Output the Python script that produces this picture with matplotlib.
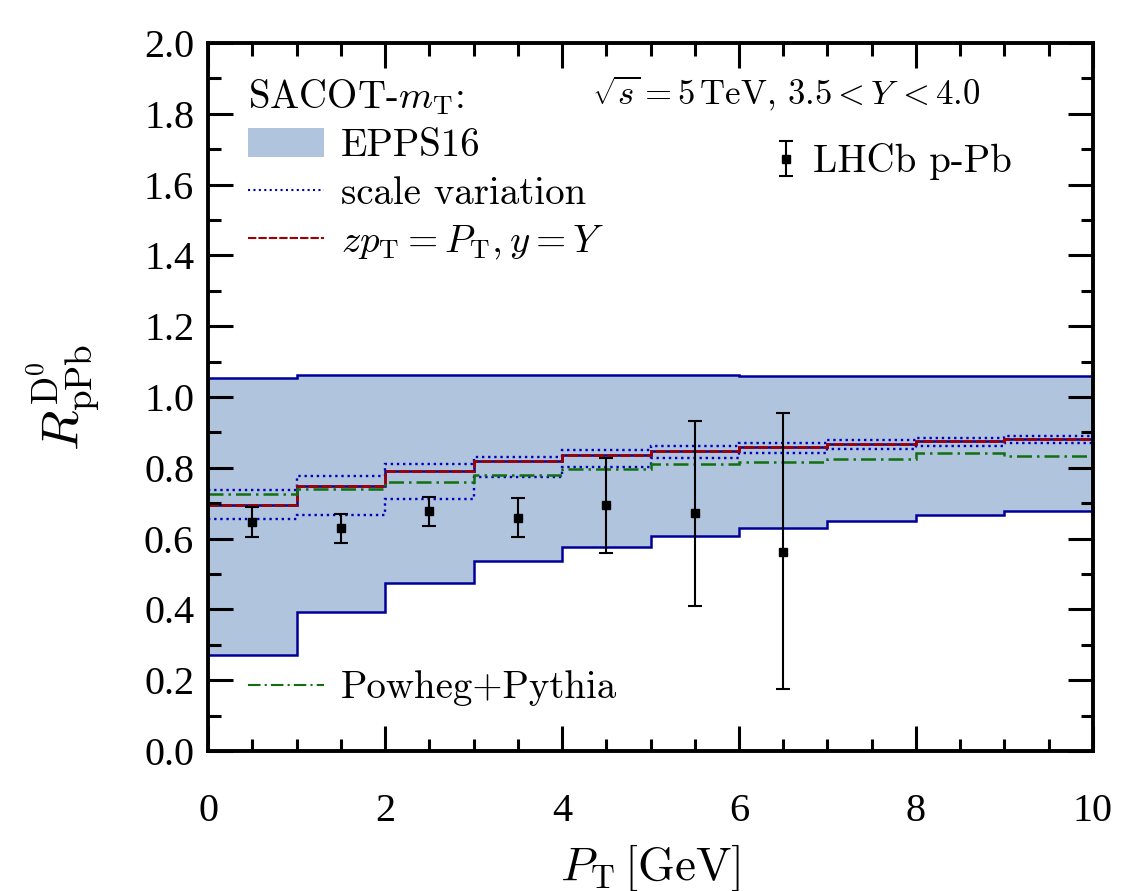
import numpy as np
import matplotlib
matplotlib.use("Agg")
import matplotlib.pyplot as plt
from matplotlib.lines import Line2D
from matplotlib.patches import Patch
from matplotlib.ticker import MultipleLocator
from matplotlib.legend_handler import HandlerErrorbar

plt.rcParams['mathtext.fontset'] = 'cm'
plt.rcParams['font.family'] = 'serif'
plt.rcParams['font.serif'] = ['cmr10']
plt.rcParams['axes.formatter.use_mathtext'] = True

# bin edges in P_T
edges = np.arange(0, 11, 1)

# EPPS16 band
epps_up = [1.053, 1.062, 1.061, 1.063, 1.062, 1.062, 1.060, 1.059, 1.059, 1.059]
epps_lo = [0.271, 0.394, 0.476, 0.536, 0.577, 0.607, 0.629, 0.649, 0.666, 0.679]

# central and scale variations
central = [0.695, 0.750, 0.791, 0.820, 0.836, 0.848, 0.859, 0.868, 0.875, 0.881]
scale_up = [0.737, 0.778, 0.810, 0.831, 0.849, 0.862, 0.870, 0.879, 0.884, 0.890]
scale_lo = [0.655, 0.668, 0.711, 0.775, 0.803, 0.828, 0.842, 0.853, 0.862, 0.871]
powheg = [0.725, 0.740, 0.759, 0.781, 0.796, 0.812, 0.817, 0.824, 0.842, 0.833]

# LHCb data
lhcb_x = [0.5, 1.5, 2.5, 3.5, 4.5, 5.5, 6.5]
lhcb_y = [0.647, 0.629, 0.678, 0.659, 0.694, 0.671, 0.562]
lhcb_hi = [0.688, 0.669, 0.718, 0.715, 0.827, 0.933, 0.954]
lhcb_lo = [0.605, 0.589, 0.637, 0.605, 0.560, 0.409, 0.175]

fig = plt.figure(figsize=(11.27, 8.91), dpi=100)
ax = fig.add_axes([0.1846, 0.1571, 0.7852, 0.7946])

band_col = '#b0c4de'
navy = '#000099'
blue = '#0000bb'
red = '#a00000'
green = '#107010'
dot = (0, (1, 1.6))
dash = (0, (4, 1))
dashdot = (0, (6, 2, 1, 2))

ax.stairs(epps_up, edges, baseline=epps_lo, fill=True, color=band_col, lw=0)
ax.stairs(epps_up, edges, baseline=None, color=navy, lw=1.8)
ax.stairs(epps_lo, edges, baseline=None, color=navy, lw=1.8)
ax.stairs(central, edges, baseline=None, color=navy, lw=1.8)
ax.stairs(scale_up, edges, baseline=None, color=blue, lw=1.7, ls=dot)
ax.stairs(scale_lo, edges, baseline=None, color=blue, lw=1.7, ls=dot)
ax.stairs(central, edges, baseline=None, color=red, lw=1.9, ls=dash)
ax.stairs(powheg, edges, baseline=None, color=green, lw=1.8, ls=dashdot)

yerr = [np.array(lhcb_y) - np.array(lhcb_lo), np.array(lhcb_hi) - np.array(lhcb_y)]
eb = ax.errorbar(lhcb_x, lhcb_y, yerr=yerr, fmt='s', color='black', ms=6,
                 elinewidth=1.5, capsize=5, capthick=1.5, zorder=5)

ax.set_xlim(0, 10)
ax.set_ylim(0, 2.0)
ax.xaxis.set_minor_locator(MultipleLocator(0.5))
ax.yaxis.set_minor_locator(MultipleLocator(0.1))
ax.set_xticks(np.arange(0, 11, 2))
ax.set_xticklabels([str(v) for v in range(0, 11, 2)])
ax.set_yticks(np.arange(0, 2.01, 0.2))
ax.set_yticklabels(['%.1f' % v for v in np.arange(0, 2.01, 0.2)])
for lab in ax.get_xticklabels() + ax.get_yticklabels():
    lab.set_family('Liberation Serif')
    lab.set_fontsize(29)
ax.tick_params(which='both', direction='in', top=True, right=True, width=2.2)
ax.tick_params(which='major', length=18)
ax.tick_params(which='minor', length=9)
ax.tick_params(axis='x', pad=30)
ax.tick_params(axis='y', pad=10)
for sp in ax.spines.values():
    sp.set_linewidth(2.8)

ax.set_xlabel(r'$P_{\rm T}\,[\rm GeV]$', fontsize=34, labelpad=9)
ax.set_ylabel(r'$R^{\rm D^0}_{\rm pPb}$', fontsize=38, labelpad=30)

h_band = Patch(facecolor=band_col, edgecolor='none')
h_scale = Line2D([], [], color=blue, lw=1.5, ls=dot)
h_cent = Line2D([], [], color=red, lw=1.5, ls=dash)
h_pow = Line2D([], [], color=green, lw=1.5, ls=dashdot)

fs = 28
leg1 = ax.legend([h_band, h_scale, h_cent],
                 ['EPPS16', 'scale variation', r'$zp_{\rm T} = P_{\rm T}, y = Y$'],
                 title=r'SACOT-$m_{\rm T}$:', loc='upper left',
                 bbox_to_anchor=(0.045, 0.952), frameon=False, fontsize=fs,
                 title_fontsize=fs, handlelength=1.95, handleheight=0.75,
                 labelspacing=0.3, handletextpad=0.45, alignment='left',
                 borderpad=0, borderaxespad=0)
ax.add_artist(leg1)

leg2 = ax.legend([h_pow], ['Powheg+Pythia'], loc='lower left',
                 bbox_to_anchor=(0.045, 0.063), frameon=False, fontsize=fs,
                 handlelength=1.95, handletextpad=0.45,
                 borderpad=0, borderaxespad=0)
ax.add_artist(leg2)

ax.legend([eb], ['LHCb p-Pb'], loc='center left',
          bbox_to_anchor=(0.64, 0.832), frameon=False, fontsize=fs,
          handlelength=0.6, handletextpad=0.4, borderpad=0, borderaxespad=0,
          handler_map={eb: HandlerErrorbar(yerr_size=0.45)})

ax.text(0.653, 0.929, r'$\sqrt{s} = 5\,\mathrm{TeV},\, 3.5 < Y\, < 4.0$',
        transform=ax.transAxes, fontsize=25, ha='center', va='center')

fig.savefig('out.png', dpi=100)
